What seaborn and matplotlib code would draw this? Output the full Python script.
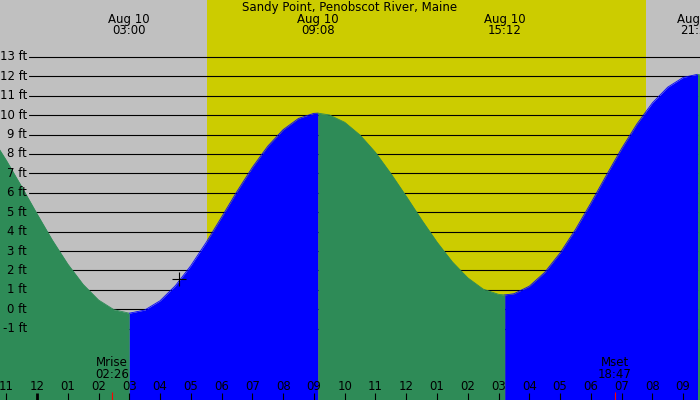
import numpy as np
import pandas as pd
import matplotlib
matplotlib.use('Agg')
import matplotlib.pyplot as plt
import seaborn as sns

# hours after midnight Aug 10, heights in ft
tide_hours = [-1.5, -1.0, -0.5, 0.0, 0.5, 1.0, 1.5, 2.0, 2.5, 3.0,
              3.5, 4.0, 4.5, 5.0, 5.5, 6.0, 6.5, 7.0, 7.5, 8.0, 8.5, 9.0, 9.133,
              9.5, 10.0, 10.5, 11.0, 11.5, 12.0, 12.5, 13.0, 13.5, 14.0, 14.5, 15.0, 15.2,
              15.5, 16.0, 16.5, 17.0, 17.5, 18.0, 18.5, 19.0, 19.5, 20.0, 20.5, 21.0, 21.467,
              22.0]
tide_ft = [8.93, 7.68, 6.32, 4.92, 3.56, 2.33, 1.28, 0.48, -0.02, -0.2,
           -0.04, 0.44, 1.22, 2.25, 3.45, 4.75, 6.07, 7.31, 8.40, 9.25, 9.83, 10.09, 10.1,
           10.01, 9.63, 8.97, 8.08, 6.99, 5.82, 4.61, 3.46, 2.44, 1.62, 1.04, 0.77, 0.74,
           0.80, 1.19, 1.90, 2.90, 4.11, 5.47, 6.89, 8.28, 9.55, 10.63, 11.44, 11.94, 12.1,
           11.9]

event_hours = [3.0, 9.133, 15.2, 21.467]
event_labels = ['03:00', '09:08', '15:12', '21:28']

sunrise_h = 5.52
sunset_h = 19.79
moon_hours = [2.43, 18.78]
moon_names = ['Mrise', 'Mset']
moon_times = ['02:26', '18:47']
now_h, now_ft = 4.63, 1.54

ft_levels = list(range(-1, 14))
hour_ticks = list(range(-1, 22))
hour_labels = ['11', '12', '01', '02', '03', '04', '05', '06', '07', '08', '09', '10',
               '11', '12', '01', '02', '03', '04', '05', '06', '07', '08', '09']

df = pd.DataFrame({'hour': tide_hours, 'ft': tide_ft})

sns.set_style('white')
plt.rcParams['font.family'] = ['DejaVu Sans']
plt.rcParams['text.color'] = 'black'

GRAY = '#c0c0c0'
YELLOW = '#cccc00'
GREEN = '#2e8b57'
BLUE = '#0000ff'

fig = plt.figure(figsize=(7, 4), dpi=100)
ax = fig.add_axes([0, 0, 1, 1])
ax.set_facecolor(GRAY)
for s in ax.spines.values():
    s.set_visible(False)

x0, x1 = -37 / 30.77, 663 / 30.77
y_bot, y_top = (309.3 - 400) / 19.42, 309.3 / 19.42


def ypx(p):
    # pixel row -> ft
    return (309.3 - p) / 19.42


ax.axvspan(sunrise_h, sunset_h, color=YELLOW, lw=0, zorder=0)

for lv in ft_levels:
    ax.axhline(lv, xmin=29 / 700, xmax=1, color='black', lw=0.8, zorder=1)

# split the curve into rising / falling stretches
v = df['ft'].values
d = np.sign(np.diff(v))
start = 0
for i in range(1, len(d) + 1):
    if i == len(d) or d[i] != d[start]:
        seg = df.iloc[start:i + 1]
        col = BLUE if d[start] > 0 else GREEN
        ax.fill_between(seg['hour'], seg['ft'], y_bot, color=col, lw=0, zorder=2)
        sns.lineplot(data=seg, x='hour', y='ft', color=col, lw=0.6, ax=ax, zorder=2)
        start = i

ax.set_xlabel('')
ax.set_ylabel('')
ax.set_xticks([])
ax.set_yticks([])
ax.set_xlim(x0, x1)
ax.set_ylim(y_bot, y_top)

ax.plot(now_h, now_ft, marker='+', ms=10, mew=0.8, color='black', zorder=4)

fs = 8.5
for lv in ft_levels:
    ax.text(-10 / 30.77, lv, f'{lv} ft', ha='right', va='center', fontsize=fs, zorder=5)

ax.text((350 - 37) / 30.77, ypx(8), 'Sandy Point, Penobscot River, Maine',
        ha='center', va='center', fontsize=fs, zorder=5)
for eh, el in zip(event_hours, event_labels):
    ax.text(eh, ypx(19), 'Aug 10', ha='center', va='center', fontsize=fs, zorder=5)
    ax.text(eh, ypx(31), el, ha='center', va='center', fontsize=fs, zorder=5)

for th, tl in zip(hour_ticks, hour_labels):
    ax.text(th, ypx(386), tl, ha='center', va='center', fontsize=fs, zorder=5)
    ax.plot([th, th], [ypx(393), y_bot], color='black',
            lw=2.0 if th == 0 else 0.8, zorder=5, solid_capstyle='butt')

for mh, name, mt in zip(moon_hours, moon_names, moon_times):
    ax.plot([mh, mh], [ypx(392), y_bot], color='red', lw=0.8, zorder=5, solid_capstyle='butt')
    ax.text(mh, ypx(362), name, ha='center', va='center', fontsize=fs, zorder=5)
    ax.text(mh, ypx(374), mt, ha='center', va='center', fontsize=fs, zorder=5)

fig.savefig('out.png', dpi=100, facecolor=GRAY)
